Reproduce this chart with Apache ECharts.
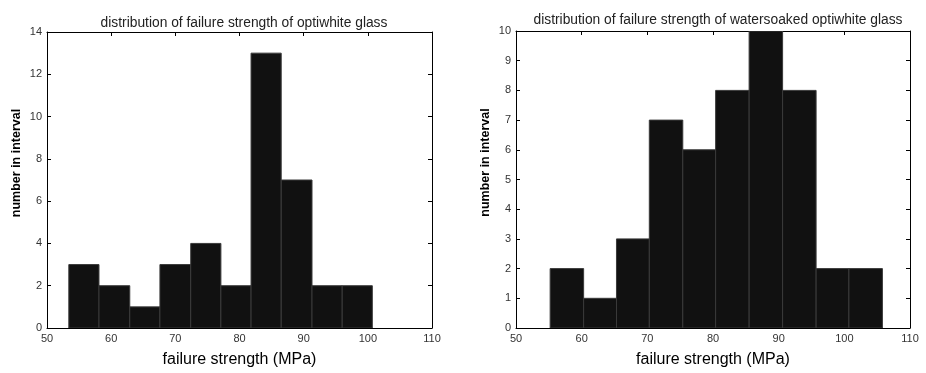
<!DOCTYPE html>
<html><head><meta charset="utf-8">
<script src="https://cdn.jsdelivr.net/npm/echarts@6/dist/echarts.min.js"></script>
<style>html,body{margin:0;padding:0;background:#fff}#c{width:926px;height:373px}</style>
</head><body><div id="c"></div>
<script>
// Left histogram: optiwhite glass
const edgesA = [53.4, 58.1, 62.9, 67.6, 72.4, 77.1, 81.8, 86.5, 91.3, 96.0, 100.7];
const countsA = [3, 2, 1, 3, 4, 2, 13, 7, 2, 2];
// Right histogram: watersoaked optiwhite glass
const edgesB = [55.2, 60.3, 65.3, 70.3, 75.4, 80.4, 85.5, 90.6, 95.7, 100.7, 105.8];
const countsB = [2, 1, 3, 7, 6, 8, 10, 8, 2, 2];
const titleA = 'distribution of failure strength of optiwhite glass';
const titleB = 'distribution of failure strength of watersoaked optiwhite glass';
const xName = 'failure strength (MPa)';
const yName = 'number in interval';

function bins(edges, counts){ return counts.map((c,i)=>[edges[i], edges[i+1], c]); }
const FONT = 'Liberation Sans, Arial, sans-serif';

function renderBar(params, api){
  const p0 = api.coord([api.value(0), api.value(2)]);
  const p1 = api.coord([api.value(1), 0]);
  return {type:'rect', shape:{x:p0[0], y:p0[1], width:p1[0]-p0[0], height:p1[1]-p0[1]},
    style:{fill:'#111', stroke:'#3a3a3a', lineWidth:1}};
}

const grids = [
  {left:47, top:32, width:385, height:304},
  {left:516, top:31, width:394, height:305}
];
function xAxes(gi){
  const base = {gridIndex:gi, type:'value', min:50, max:110, interval:10,
    axisLine:{show:true, onZero:false, lineStyle:{color:'#000', width:1}},
    axisTick:{show:true, inside:true, length:4, lineStyle:{color:'#000'}},
    splitLine:{show:false}};
  return [
    Object.assign({}, base, {position:'bottom', name:xName, nameLocation:'middle', nameGap:24,
      nameTextStyle:{fontFamily:FONT, fontSize:16, color:'#000'},
      axisLabel:{fontFamily:FONT, fontSize:11, color:'#333', margin:5}}),
    Object.assign({}, base, {position:'top', axisLabel:{show:false}})
  ];
}
function yAxes(gi, max, interval){
  const base = {gridIndex:gi, type:'value', min:0, max:max, interval:interval,
    axisLine:{show:true, onZero:false, lineStyle:{color:'#000', width:1}},
    axisTick:{show:true, inside:true, length:4, lineStyle:{color:'#000'}},
    splitLine:{show:false}};
  return [
    Object.assign({}, base, {position:'left', name:yName, nameLocation:'middle', nameGap:24,
      nameTextStyle:{fontFamily:FONT, fontSize:12.5, fontWeight:'bold', color:'#000', padding:[0,0,0,34]},
      axisLabel:{fontFamily:FONT, fontSize:11, color:'#333', margin:5}}),
    Object.assign({}, base, {position:'right', axisLabel:{show:false}})
  ];
}

const chart = echarts.init(document.getElementById('c'), null, {renderer:'canvas'});
chart.setOption({
  animation:false,
  backgroundColor:'#fff',
  title:[
    {text:titleA, left:239, top:11, textAlign:'center', textStyle:{fontFamily:FONT, fontSize:13.8, fontWeight:'normal', color:'#222'}},
    {text:titleB, left:713, top:8, textAlign:'center', textStyle:{fontFamily:FONT, fontSize:13.8, fontWeight:'normal', color:'#222'}}
  ],
  grid:grids,
  xAxis:[...xAxes(0), ...xAxes(1)],
  yAxis:[...yAxes(0, 14, 2), ...yAxes(1, 10, 1)],
  series:[
    {type:'custom', xAxisIndex:0, yAxisIndex:0, renderItem:renderBar, data:bins(edgesA, countsA), encode:{x:[0,1], y:2}, clip:true},
    {type:'custom', xAxisIndex:2, yAxisIndex:2, renderItem:renderBar, data:bins(edgesB, countsB), encode:{x:[0,1], y:2}, clip:true}
  ]
});
</script></body></html>
